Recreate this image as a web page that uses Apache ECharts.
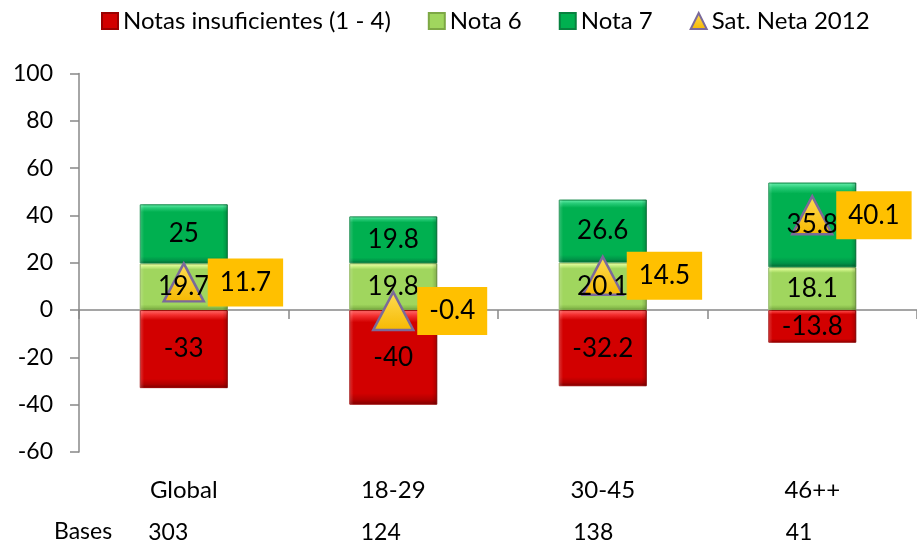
<!DOCTYPE html>
<html>
<head>
<meta charset="utf-8">
<script src="https://cdn.jsdelivr.net/npm/echarts@6/dist/echarts.min.js"></script>
<style>
  html, body { margin: 0; padding: 0; background: #fff; }
  #chart { width: 917px; height: 546px; }
</style>
</head>
<body>
<div id="chart"></div>
<script>
// Satisfaction by age group: stacked grade shares plus net satisfaction
const categories = ['Global', '18-29', '30-45', '46++'];
const bases = ['303', '124', '138', '41'];
const notasInsuficientes = [-33, -40, -32.2, -13.8];
const nota6 = [19.7, 19.8, 20.1, 18.1];
const nota7 = [25, 19.8, 26.6, 35.8];
const satNeta2012 = [11.7, -0.4, 14.5, 40.1];
const yTicks = { min: -60, max: 100, step: 20 };

const FONT = 'Lato, "Open Sans", sans-serif';
const BAR_W = 88;
const TRI_SIZE = [40, 38];

// Bevelled look: light top edge, flat body, dark bottom edge
function bevel(top, mid, body, bottom, dark) {
  return {
    type: 'linear', x: 0, y: 0, x2: 0, y2: 1,
    colorStops: [
      { offset: 0, color: top },
      { offset: 0.06, color: mid },
      { offset: 0.13, color: body },
      { offset: 0.88, color: body },
      { offset: 0.95, color: bottom },
      { offset: 1, color: dark }
    ]
  };
}

// Side shading laid over each block: lighter left rim, darker right rim
const sideShade = {
  type: 'linear', x: 0, y: 0, x2: 1, y2: 0,
  colorStops: [
    { offset: 0, color: 'rgba(255,255,255,0.22)' },
    { offset: 0.05, color: 'rgba(255,255,255,0)' },
    { offset: 0.94, color: 'rgba(0,0,0,0)' },
    { offset: 1, color: 'rgba(0,0,0,0.2)' }
  ]
};

const redFill = bevel('#FF7070', '#F43030', '#D20000', '#B00000', '#7A0000');
const lightGreenFill = bevel('#F4FFB8', '#CDF286', '#A0D65E', '#88BC4C', '#6A9638');
const greenFill = bevel('#6CF2B0', '#28CC78', '#00B050', '#009448', '#046632');

const barLabel = {
  show: true,
  position: 'inside',
  color: '#000',
  fontFamily: FONT,
  fontSize: 26
};

// Filled stacks (no labels) and a twin stack carrying the side shading and
// the value labels, so the labels sit above the triangles.
function barPair(name, values, fill, edge) {
  return [
    {
      name: name,
      type: 'bar',
      stack: 'grades',
      barWidth: BAR_W,
      z: 2,
      data: values,
      itemStyle: { color: fill, borderColor: edge, borderWidth: 1 },
      label: { show: false }
    },
    {
      name: name + ' (valores)',
      type: 'bar',
      stack: 'gradeLabels',
      barWidth: BAR_W,
      barGap: '-100%',
      z: 4,
      silent: true,
      data: values,
      itemStyle: { color: sideShade },
      label: barLabel
    }
  ];
}

const triangleStyle = {
  color: {
    type: 'linear', x: 0, y: 0, x2: 0, y2: 1,
    colorStops: [
      { offset: 0, color: '#FFDD55' },
      { offset: 1, color: '#F5B800' }
    ]
  },
  borderColor: '#7B6A9A',
  borderWidth: 2.5,
  opacity: 1
};

const chart = echarts.init(document.getElementById('chart'), null, { renderer: 'canvas' });

chart.setOption({
  animation: false,
  backgroundColor: '#ffffff',
  textStyle: { fontFamily: FONT },
  legend: {
    top: 4,
    left: 96,
    itemGap: 37,
    itemWidth: 16,
    itemHeight: 16,
    textStyle: { fontFamily: FONT, fontSize: 24, color: '#000' },
    data: [
      { name: 'Notas insuficientes (1 - 4)', icon: 'rect' },
      { name: 'Nota 6', icon: 'rect' },
      { name: 'Nota 7', icon: 'rect' },
      { name: 'Sat. Neta 2012' }
    ]
  },
  grid: [
    { left: 79, right: -12, top: 73.5, bottom: 94 },
    { left: 42, right: 25, top: 73.5, bottom: 94 }
  ],
  xAxis: [
    {
      type: 'category',
      gridIndex: 0,
      data: categories,
      position: 'bottom',
      axisLine: { onZero: true, lineStyle: { color: '#888888', width: 1.5 } },
      axisTick: { show: true, length: 9, lineStyle: { color: '#888888', width: 1.5 } },
      axisLabel: { show: false }
    },
    {
      type: 'category',
      gridIndex: 0,
      data: categories,
      position: 'bottom',
      axisLine: { show: false, onZero: false },
      axisTick: { show: false },
      axisLabel: { margin: 26, color: '#000', fontFamily: FONT, fontSize: 24 }
    },
    {
      type: 'category',
      gridIndex: 1,
      data: bases,
      position: 'bottom',
      axisLine: { show: false, onZero: false },
      axisTick: { show: false },
      axisLabel: { margin: 69, align: 'left', color: '#000', fontFamily: FONT, fontSize: 23 }
    }
  ],
  yAxis: [
    {
      type: 'value',
      gridIndex: 0,
      min: yTicks.min,
      max: yTicks.max,
      interval: yTicks.step,
      axisLine: { show: true, lineStyle: { color: '#888888', width: 1.5 } },
      axisTick: { show: true, length: 9, lineStyle: { color: '#888888', width: 1.5 } },
      splitLine: { show: false },
      axisLabel: { margin: 26, color: '#000', fontFamily: FONT, fontSize: 23 }
    },
    { type: 'value', gridIndex: 1, show: false, min: yTicks.min, max: yTicks.max }
  ],
  graphic: [
    {
      type: 'text',
      left: 54,
      top: 520,
      style: { text: 'Bases', fill: '#000', font: '23px ' + FONT }
    }
  ],
  series: [
    ...barPair('Notas insuficientes (1 - 4)', notasInsuficientes, redFill, '#9A0000'),
    ...barPair('Nota 6', nota6, lightGreenFill, '#7DA845'),
    ...barPair('Nota 7', nota7, greenFill, '#07813F'),
    {
      name: 'Sat. Neta 2012',
      type: 'scatter',
      symbol: 'triangle',
      symbolSize: TRI_SIZE,
      z: 3,
      data: satNeta2012,
      itemStyle: triangleStyle,
      label: { show: false }
    },
    {
      name: 'Sat. Neta 2012 (valores)',
      type: 'scatter',
      symbol: 'triangle',
      symbolSize: TRI_SIZE,
      z: 5,
      silent: true,
      data: satNeta2012,
      itemStyle: { color: 'rgba(0,0,0,0)', opacity: 1 },
      label: {
        show: true,
        position: 'right',
        distance: 4,
        color: '#000',
        opacity: 1,
        fontFamily: FONT,
        fontSize: 26,
        backgroundColor: '#FFC000',
        padding: [11, 12]
      }
    }
  ]
});
</script>
</body>
</html>
